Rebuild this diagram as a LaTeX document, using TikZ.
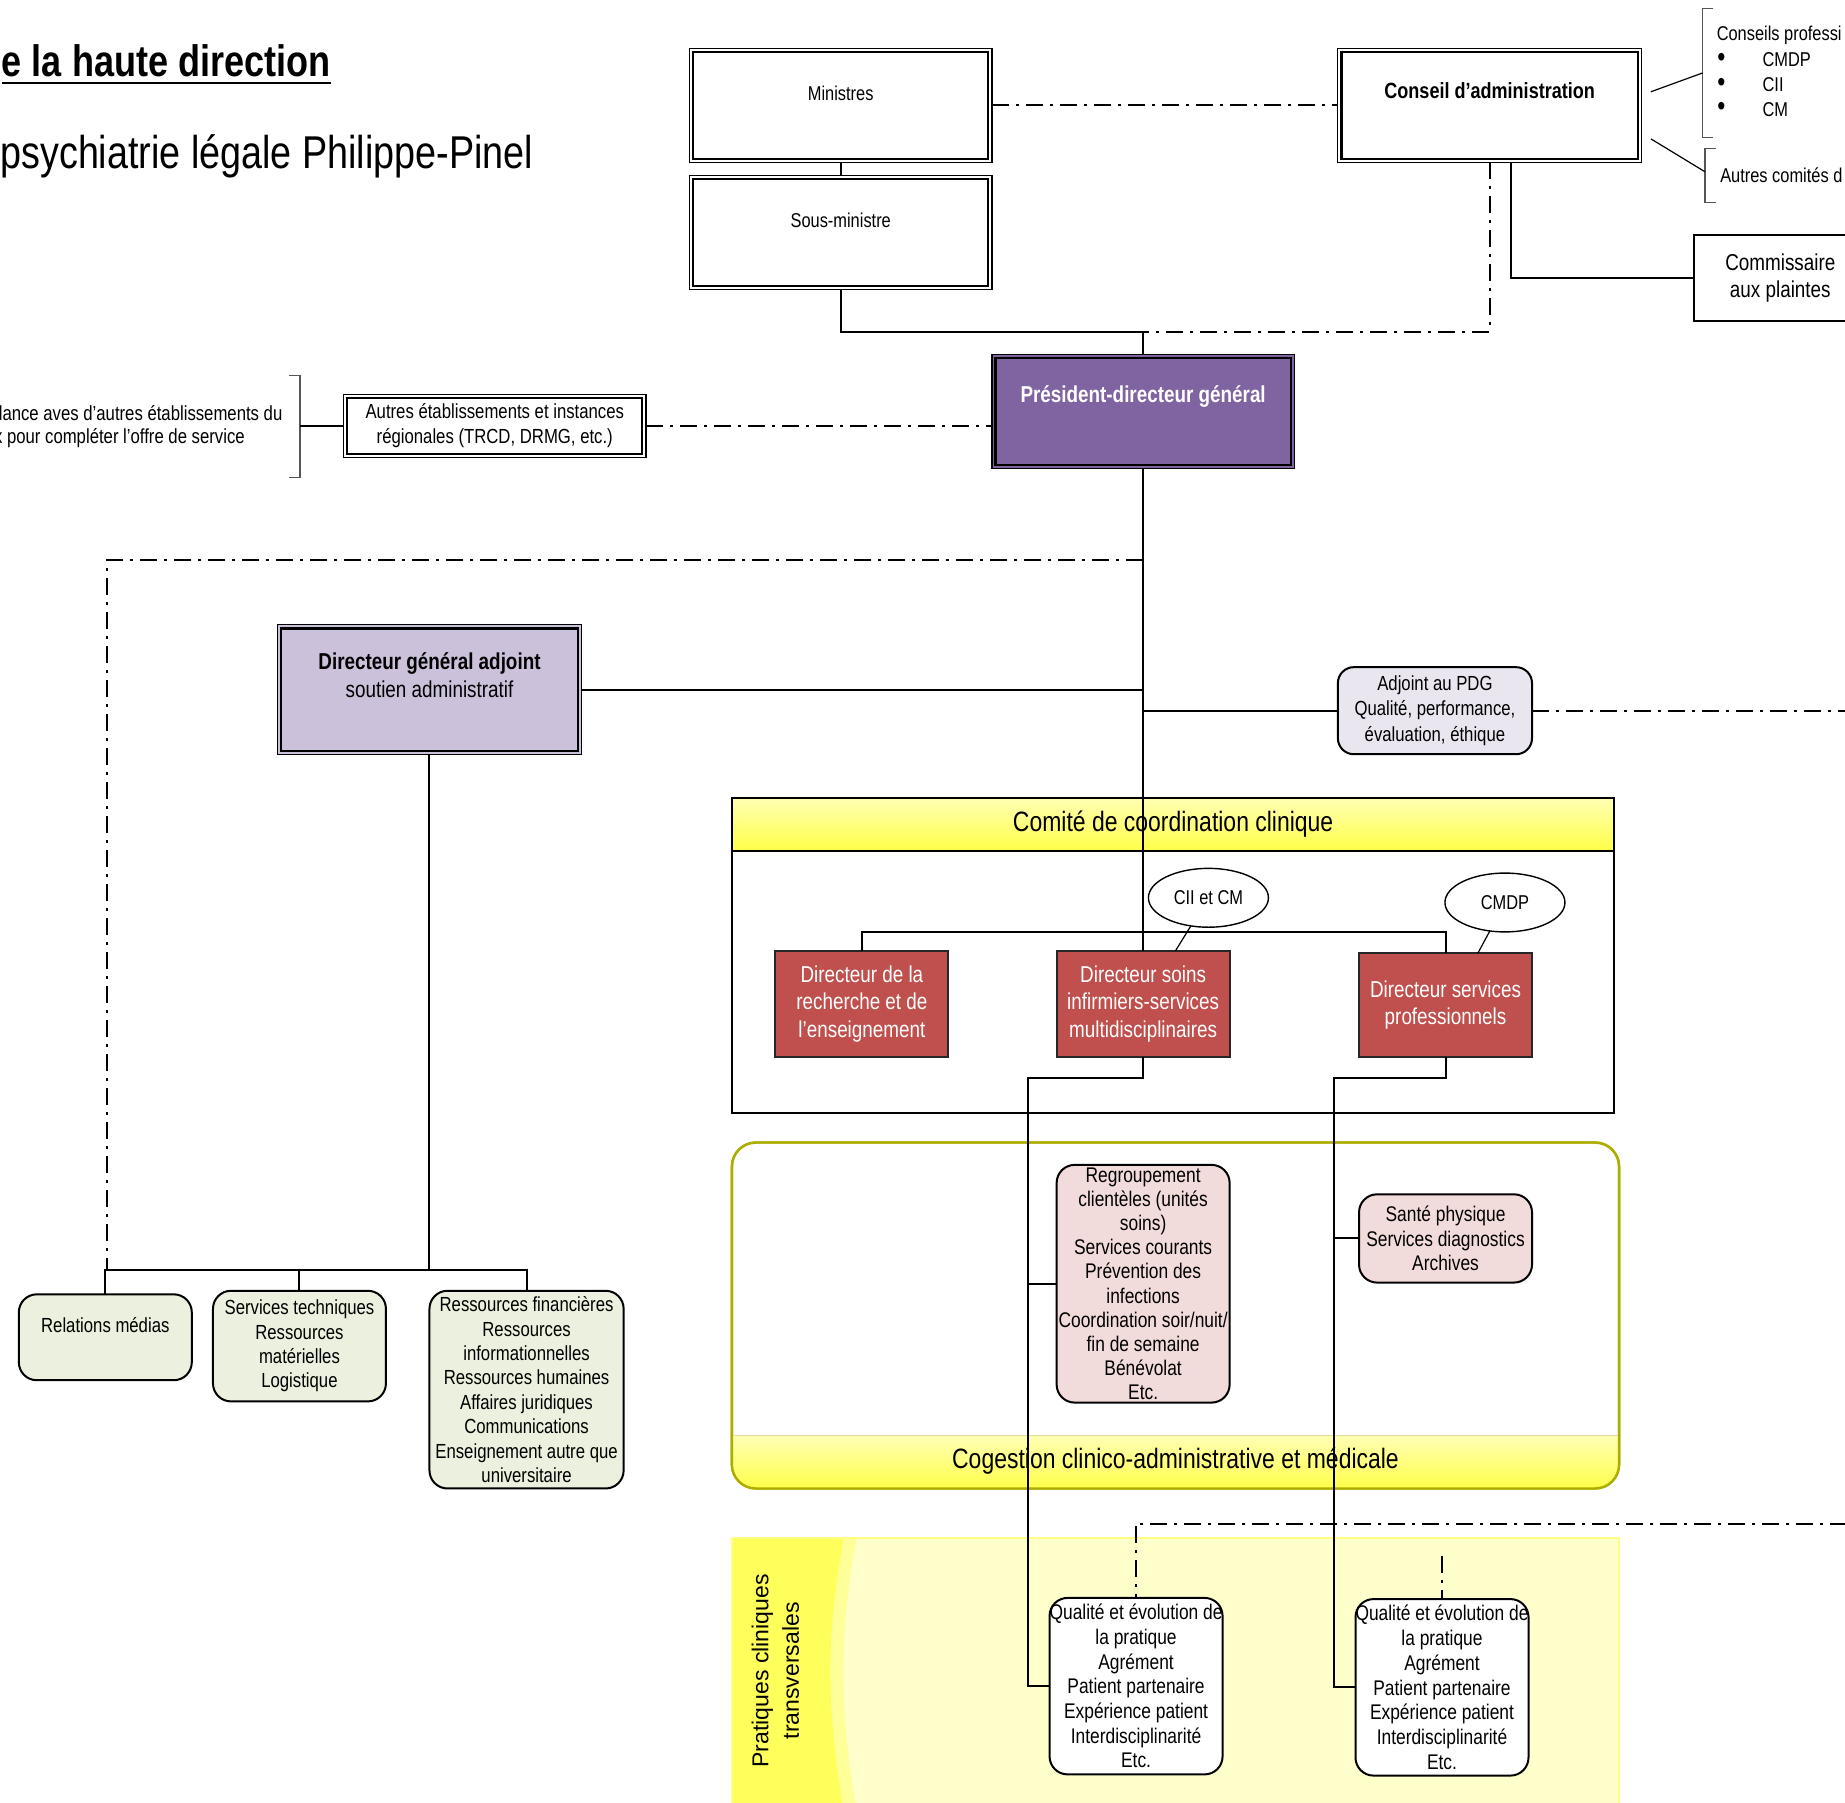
\documentclass[tikz,border=0pt]{standalone}
\usepackage{fontspec}
\setmainfont{Liberation Sans}[FakeStretch=0.82]
\newfontfamily\widefont{Liberation Sans}
\usetikzlibrary{shapes.geometric}
\definecolor{pdgC}{HTML}{8064A2}
\definecolor{dgaC}{HTML}{CCC1DA}
\definecolor{adjC}{HTML}{E9E6EF}
\definecolor{grC}{HTML}{EBF1DE}
\definecolor{redC}{HTML}{C0504D}
\definecolor{pinkC}{HTML}{F2DCDB}
\definecolor{ylLight}{HTML}{FFFFB4}
\definecolor{ylDark}{HTML}{FFFF48}
\definecolor{cogEdge}{HTML}{ADAD00}
\definecolor{prLight}{HTML}{FFFFCC}
\definecolor{prMid}{HTML}{FFFF99}
\definecolor{prBand}{HTML}{FFFF5C}
\definecolor{prEdge}{HTML}{FFFF80}
\definecolor{brkC}{HTML}{555555}
\newcommand\fs[2]{\fontsize{#1}{#2}\selectfont}
\newcommand\dblin[1]{\draw[line width=1.1pt] ([xshift=1.8pt,yshift=-1.8pt]#1.north west) rectangle ([xshift=-1.8pt,yshift=1.8pt]#1.south east);}
\begin{document}
\begin{tikzpicture}[x=0.58833pt, y=-0.58833pt,
  every node/.style={inner sep=0pt, outer sep=0pt, align=center, font=\fs{10.2}{12.2}},
  sz/.style 2 args={minimum width=#1*0.58833pt, minimum height=#2*0.58833pt},
  box/.style={draw, line width=1pt, rectangle},
  dblbox/.style={draw, line width=0.6pt, rectangle},
  rbox/.style={draw, line width=1pt, rectangle, rounded corners=8pt},
  redbox/.style={draw=black!85, line width=1pt, fill=redC, text=white, font=\fs{11.5}{13.8}},
  ell/.style={draw, ellipse, line width=0.7pt, fill=white, minimum width=102*0.58833pt, minimum height=50*0.58833pt, font=\fs{10}{12}},
  conn/.style={line width=1pt},
  thinconn/.style={line width=0.6pt},
  dd/.style={line width=1pt, dash pattern=on 8.5pt off 3.5pt on 1.5pt off 3.5pt},
  brk/.style={draw=brkC, line width=0.7pt}]
\useasboundingbox (0,0) rectangle (1568,1532.3);
\begin{scope}
\clip (0,0) rectangle (1568,1532.3);

% ---------- backgrounds ----------
\fill[prLight] (622,1307) rectangle (1376,1540);
\fill[prMid] (622,1307) -- (728,1307) .. controls (713,1390) and (713,1450) .. (728,1540) -- (622,1540) -- cycle;
\fill[prBand] (622,1307) -- (717,1307) .. controls (702,1390) and (702,1450) .. (717,1540) -- (622,1540) -- cycle;
\draw[prEdge, line width=0.8pt] (622,1540) -- (622,1307) -- (1376,1307) -- (1376,1540);

\node[draw=cogEdge, line width=1.2pt, rounded corners=12pt, fill=white, sz={754}{294}] (cogb) at (999,1118) {};
\begin{scope}
\clip[rounded corners=12pt] (622,971) rectangle (1376,1265);
\node[top color=ylLight, bottom color=ylDark, sz={756}{46}] (cogband) at (999,1243) {};
\end{scope}
\draw[cogEdge!40, line width=0.8pt] (622,1220) -- (1376,1220);
\draw[cogEdge, line width=1.2pt, rounded corners=12pt] (cogb.north west) rectangle (cogb.south east);
\node[font=\fs{14}{16}] (cogt) at (999,1242) {Cogestion clinico-administrative et médicale};

\node[box, sz={750}{223}] (comb) at (997,834.5) {};
\node[box, top color=ylLight, bottom color=ylDark, sz={750}{45}, font=\fs{14}{16}] (comh) at (997,700.5) {Comité de coordination clinique};

% ---------- titles ----------
\node[anchor=base east, font=\fs{22}{26}\bfseries] (t1) at (281,65) {e la haute direction};
\draw[line width=1.1pt] ([yshift=-3.2pt]t1.base west) -- ([yshift=-3.2pt]t1.base east);
\node[anchor=base east, font=\fs{23}{27}] (t2) at (453,143) {psychiatrie légale Philippe-Pinel};

% ---------- top boxes ----------
\node[dblbox, sz={257}{97}] (min) at (714.5,89.5) {};
\dblin{min}
\node[font=\fs{10}{12}] (mint) at (714.5,79) {Ministres};
\node[dblbox, sz={257}{97}] (sous) at (714.5,197.5) {};
\dblin{sous}
\node[font=\fs{10}{12}] (soust) at (714.5,187) {Sous-ministre};
\node[dblbox, sz={258}{97}] (ca) at (1266,89.5) {};
\dblin{ca}
\node[font=\fs{11}{13}\bfseries] (cat) at (1266,77) {Conseil d’administration};
\node[box, sz={160}{73}] (com) at (1520,236.5) {};
\node[font=\fs{11.5}{13.5}] (comt) at (1513,236) {Commissaire\\aux plaintes};

\node[dblbox, fill=pdgC, sz={257}{97}] (pdg) at (971.5,349.5) {};
\dblin{pdg}
\node[font=\fs{11.5}{13.5}\bfseries, text=white] (pdgt) at (971.5,337) {Président-directeur général};

\node[dblbox, sz={257}{54}, font=\fs{10.2}{12.4}] (aut) at (420.5,362) {Autres établissements et instances\\régionales (TRCD, DRMG, etc.)};
\dblin{aut}

% left bracket text
\node[anchor=east] (lt1) at (240,351) {lance aves d’autres établissements du};
\node[anchor=east] (lt2) at (208,372) {x pour compléter l’offre de service};
\draw[brk] (246,319) -- (255,319) -- (255,406) -- (246,406);
\draw[thinconn] (255,362) -- (aut.west);

% right brackets
\node[anchor=west, font=\fs{10}{12}] (cp) at (1459,30) {Conseils professi};
\node[font=\fs{14}{12}] (b1) at (1463,51) {•};
\node[font=\fs{14}{12}] (b2) at (1463,72) {•};
\node[font=\fs{14}{12}] (b3) at (1463,93) {•};
\node[anchor=west, font=\fs{10}{12}] (i1) at (1498,51) {CMDP};
\node[anchor=west, font=\fs{10}{12}] (i2) at (1498,72) {CII};
\node[anchor=west, font=\fs{10}{12}] (i3) at (1498,93) {CM};
\node[anchor=west, font=\fs{10}{12}] (ac) at (1462,149) {Autres comités d};
\draw[brk] (1456,7) -- (1447,7) -- (1447,117) -- (1456,117);
\draw[brk] (1458,126) -- (1449,126) -- (1449,172) -- (1458,172);
\coordinate (k1) at (1403,78); \coordinate (k2) at (1447,62);
\coordinate (k3) at (1403,118); \coordinate (k4) at (1449,146);
\draw[thinconn] (k1) -- (k2);
\draw[thinconn] (k3) -- (k4);

% ---------- middle ----------
\node[dblbox, fill=dgaC, sz={258}{110}] (dga) at (365,586) {};
\dblin{dga}
\node[font=\fs{11.5}{14.1}] (dgat) at (365,574) {\textbf{Directeur général adjoint}\\soutien administratif};

\node[rbox, fill=adjC, sz={165}{74}, font=\fs{10.2}{12.65}] (adj) at (1219.5,604) {Adjoint au PDG\\Qualité, performance,\\évaluation, éthique};

% green boxes
\node[rbox, fill=grC, rounded corners=9pt, sz={147}{73}] (rel) at (89.5,1136.5) {};
\node (relt) at (89.5,1126) {Relations médias};
\node[rbox, fill=grC, rounded corners=9pt, sz={147}{94}] (serv) at (254.5,1144) {Services techniques\\Ressources\\matérielles\\Logistique};
\node[rbox, fill=grC, rounded corners=9pt, sz={165}{168}] (ress) at (447.5,1181) {Ressources financières\\Ressources\\informationnelles\\Ressources humaines\\Affaires juridiques\\Communications\\Enseignement autre que\\universitaire};

% red boxes
\node[redbox, sz={147}{90}] (drech) at (732.5,853) {Directeur de la\\recherche et de\\l’enseignement};
\node[redbox, sz={147}{90}] (dsoin) at (971.5,853) {Directeur soins\\infirmiers-services\\multidisciplinaires};
\node[redbox, sz={147}{88}] (dserv) at (1228.5,854) {Directeur services\\professionnels};
\node[ell] (cii) at (1027,763) {CII et CM};
\node[ell] (cmdp) at (1279,767) {CMDP};

% pink boxes
\node[rbox, fill=pinkC, rounded corners=9pt, sz={147}{202}, font=\fs{10.6}{12.1}] (regr) at (971.5,1091) {Regroupement\\clientèles (unités\\soins)\\Services courants\\Prévention des\\infections\\Coordination soir/nuit/\\fin de semaine\\Bénévolat\\Etc.};
\node[rbox, fill=pinkC, rounded corners=9pt, sz={147}{75}, font=\fs{10.6}{12.1}] (sante) at (1228.5,1052.5) {Santé physique\\Services diagnostics\\Archives};

% pratiques
\node[rotate=90, font=\widefont\fs{11.5}{15.3}] (prat) at (659,1420) {Pratiques cliniques\\transversales};
\node[rbox, fill=white, rounded corners=9pt, sz={147}{150}, font=\fs{10.6}{12.35}] (qual1) at (965.5,1433) {Qualité et évolution de\\la pratique\\Agrément\\Patient partenaire\\Expérience patient\\Interdisciplinarité\\Etc.};
\node[rbox, fill=white, rounded corners=9pt, sz={147}{150}, font=\fs{10.6}{12.35}] (qual2) at (1225.5,1434) {Qualité et évolution de\\la pratique\\Agrément\\Patient partenaire\\Expérience patient\\Interdisciplinarité\\Etc.};

% ---------- connectors ----------
\coordinate (j1) at (971.5,282);
\coordinate (cs) at (1284,138);
\coordinate (j2) at (971.5,476);
\coordinate (j3) at (91,1079);
\coordinate (adjR) at (1570,604);
\coordinate (hb) at (365,1079);
\coordinate (v1) at (874,916);
\coordinate (v2) at (1134,916);
\coordinate (ddR) at (1570,1295);
\coordinate (q2s) at (1225.5,1322);

\draw[conn] (min.south) -- (sous.north);
\draw[conn] (sous.south) |- (j1) -- (pdg.north);
\draw[dd] (min.east) -- (ca.west);
\draw[dd] (ca.south) |- (j1);
\draw[conn] (cs) |- (com.west);
\draw[dd] (aut.east) -- (aut.east -| pdg.west);
\draw[conn] (pdg.south) -- (dsoin.north);
\draw[dd] (j2) -| (j3);
\draw[conn] (dga.east) -- (dga.east -| pdg.south);
\draw[conn] (adj.west -| pdg.south) -- (adj.west);
\draw[dd] (adj.east) -- (adjR);
\draw[conn] (dga.south) -- (hb);
\draw[conn] (rel.north) |- (hb);
\draw[conn] (ress.north) |- (hb);
\draw[conn] (serv.north) -- (serv.north |- hb);
\draw[conn] (drech.north) -- ++(0,-16) -| (dserv.north);
\draw[thinconn] (cii.238) -- ([xshift=16.2pt]dsoin.north);
\draw[thinconn] (cmdp.242) -- ([xshift=16.2pt]dserv.north);
\draw[conn] (dsoin.south) |- (v1) -- (v1 |- qual1.west) -- (qual1.west);
\draw[conn] (v1 |- regr.west) -- (regr.west);
\draw[conn] (dserv.south) |- (v2) -- (v2 |- qual2.west) -- (qual2.west);
\draw[conn] (v2 |- sante.west) -- (sante.west);
\draw[dd] (ddR) -| (qual1.north);
\draw[dd] (q2s) -- (qual2.north);
\end{scope}
\end{tikzpicture}
\end{document}
